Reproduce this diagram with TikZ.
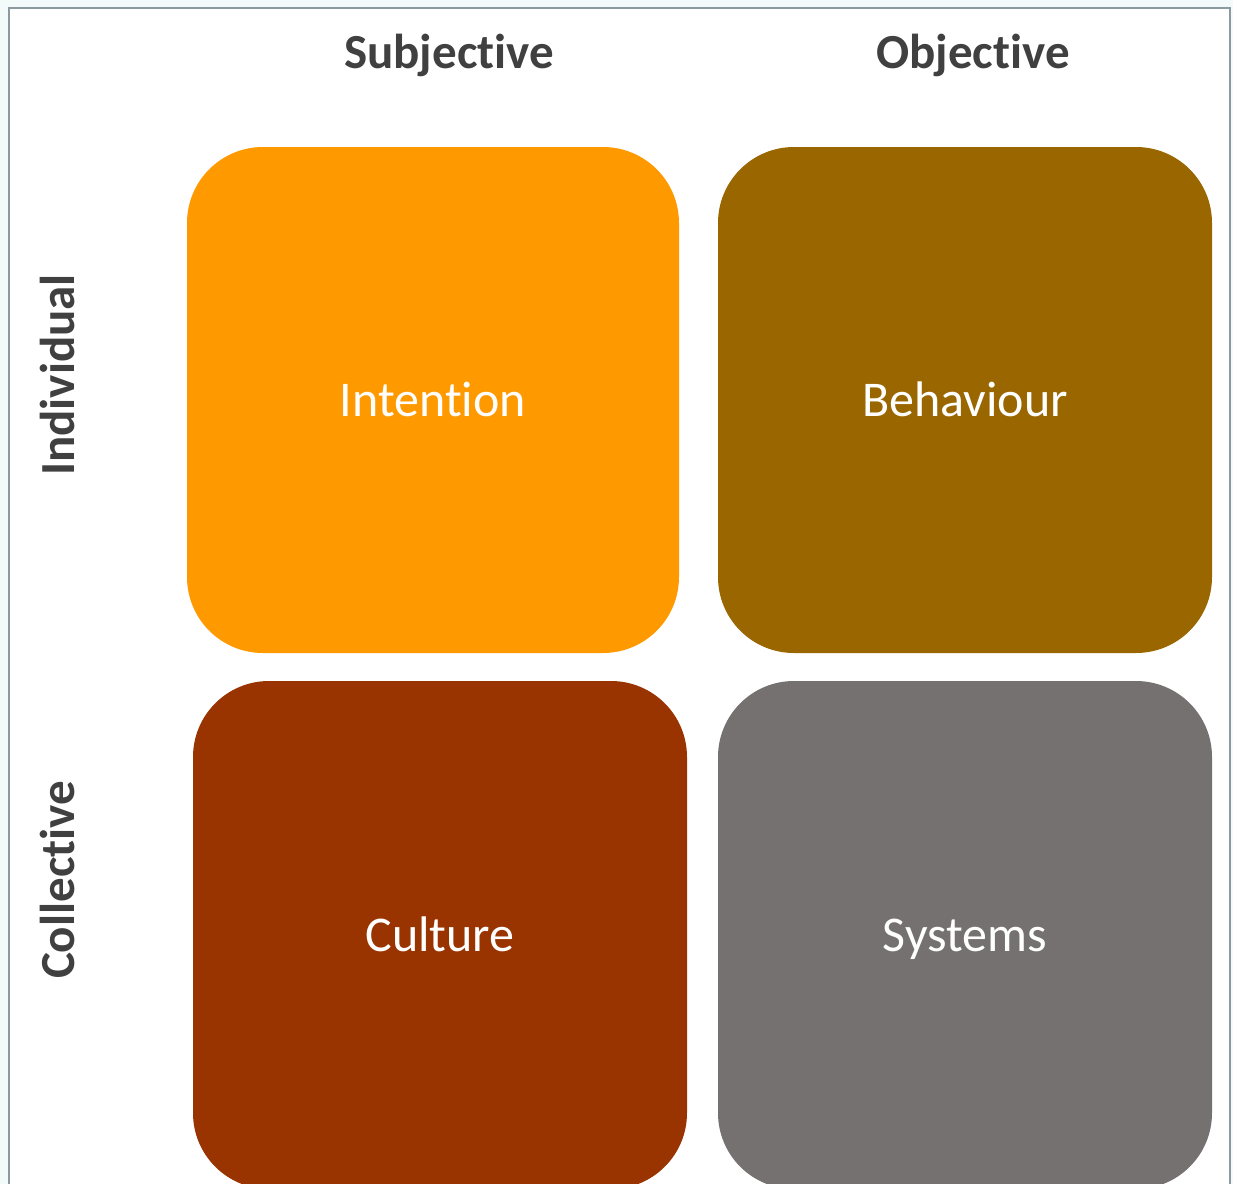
\documentclass[tikz,border=0pt]{standalone}
\usepackage{fontspec}
\setmainfont[Ligatures=NoCommon]{Carlito}
\begin{document}
\begin{tikzpicture}[x=0.5pt,y=-0.5pt,
  quad/.style={draw=none, rounded corners=38pt, minimum width=246pt, minimum height=253pt,
    inner sep=0pt, text=white, text height=16pt, text depth=0pt,
    font=\fontsize{25}{30}\selectfont},
  axis/.style={text=black!75, font=\bfseries\fontsize{24.5}{29}\selectfont, inner sep=0pt}]
\definecolor{cIntention}{HTML}{FF9900}
\definecolor{cBehaviour}{HTML}{996600}
\definecolor{cCulture}{HTML}{993300}
\definecolor{cSystems}{HTML}{767171}
\definecolor{frameline}{HTML}{8A9AA0}
\definecolor{outerbg}{HTML}{F2FAFA}
% page and frame
\fill[outerbg] (0,0) rectangle (1233,1184);
\useasboundingbox (0,0) rectangle (1233,1184);
\fill[white] (9,8) rectangle (1230,1184);
\begin{scope}
\clip (9,8) rectangle (1230,1183);
% quadrants
\node[quad, fill=cIntention, minimum width=246pt, minimum height=253pt] (intention) at (433,400) {Intention};
\node[quad, fill=cBehaviour, minimum width=247pt, minimum height=253pt] (behaviour) at (965,400) {Behaviour};
\node[quad, fill=cCulture, minimum width=247pt, minimum height=254pt] (culture) at (440,935) {Culture};
\node[quad, fill=cSystems, minimum width=247pt, minimum height=254pt] (systems) at (965,935) {Systems};
\end{scope}
\draw[frameline, line width=1pt] (9,1190) -- (9,8) -- (1230,8) -- (1230,1190);
% axis labels
\node[axis] (subjective) at (449,55) {Subjective};
\node[axis] (objective) at (973,55) {Objective};
\node[axis, rotate=90] (individual) at (57,375) {Individual};
\node[axis, rotate=90] (collective) at (57,880) {Collective};
\end{tikzpicture}
\end{document}
